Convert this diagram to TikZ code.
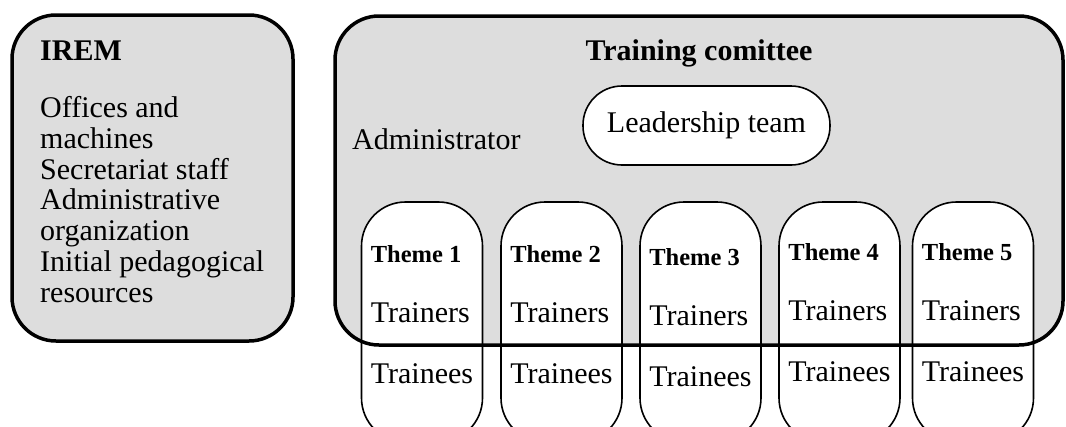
\documentclass[tikz,border=0pt]{standalone}
\usepackage{fontspec}
\setmainfont{Liberation Serif}
\usepackage{tikz}
\usetikzlibrary{positioning}
\definecolor{boxgrey}{RGB}{221,221,221}

\begin{document}
\begin{tikzpicture}[x=1pt, y=-1pt,
    greyfill/.style={rectangle, fill=boxgrey, rounded corners=44pt, inner sep=0pt},
    greyframe/.style={rectangle, draw, line width=3.5pt, rounded corners=44pt, inner sep=0pt},
    pill/.style={rectangle, draw, fill=white, line width=1.6pt, inner sep=0pt},
    txt/.style={inner sep=0pt, font=\fontsize{30}{30.7}\selectfont},
    small/.style={inner sep=0pt, font=\fontsize{24.5}{26}\selectfont\bfseries}]
        \useasboundingbox (0,0) rectangle (1066,426);
        \clip (0,0) rectangle (1066,426);
        \node [greyfill, draw, line width=3.5pt, minimum width=281pt, minimum height=326pt] (Irem) at (152.5,178) {};
        \node [txt, anchor=base west] (IremTitle) at (40,60) {\textbf{IREM}};
        \node [txt, anchor=base west, align=left] (IremList) at (40,302) {Offices and\\machines\\Secretariat staff\\Administrative\\organization\\Initial pedagogical\\resources};
        \node [greyfill, minimum width=728pt, minimum height=329pt] (Comm) at (699,180.5) {};
        \node [txt, anchor=base] (CommTitle) at (699,60) {\textbf{Training comittee}};
        \node [txt, anchor=base west] (Admin) at (352,149) {Administrator};
        \node [pill, rounded corners=39pt, minimum width=247pt, minimum height=79pt, txt] (Lead) at (706.5,125.5) {Leadership team};
        \foreach \i/\x/\d in {1/422/0, 2/561.5/0, 3/700.5/3, 4/839.5/-2, 5/973/-2} {
            \node [pill, rounded corners=44pt, minimum width=121pt, minimum height=240pt] (Theme\i) at (\x,322) {};
            \node [small, anchor=base west] (ThemeName\i) at ([xshift=10pt]Theme\i.west |- 0,262+\d) {Theme \i};
            \node [txt, anchor=base west] (Trainers\i) at ([xshift=10pt]Theme\i.west |- 0,322+\d) {Trainers};
            \node [txt, anchor=base west] (Trainees\i) at ([xshift=10pt]Theme\i.west |- 0,383+\d) {Trainees};
        }
        \node [greyframe, minimum width=728pt, minimum height=329pt] (CommFrame) at (Comm.center) {};
\end{tikzpicture}
\end{document}
